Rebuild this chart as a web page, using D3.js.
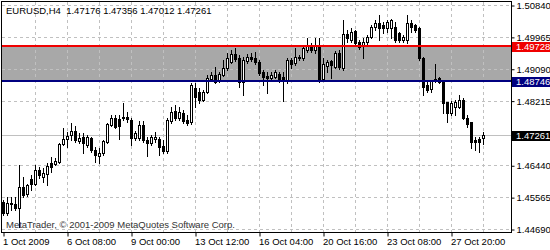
<!DOCTYPE html>
<html>
<head>
<meta charset="utf-8">
<script src="https://cdn.jsdelivr.net/npm/d3@7"></script>
<style>
    body { margin: 0; background: #fff; }
    svg { display: block; font-family: "Liberation Sans", Arial, sans-serif; font-size: 9.5px; }
</style>
</head>
<body>
<div id="chart"></div>
<script>
// EURUSD H4 bars
const symbol = "EURUSD,H4";

const open = [
    1.4543, 1.4513, 1.4540, 1.4538, 1.4527, 1.4584, 1.4565, 1.4606, 1.4593, 1.4631,
    1.4612, 1.4620, 1.4650, 1.4647, 1.4653, 1.4702, 1.4716, 1.4727, 1.4738, 1.4711,
    1.4722, 1.4700, 1.4719, 1.4686, 1.4669, 1.4678, 1.4708, 1.4755, 1.4774, 1.4771,
    1.4774, 1.4776, 1.4768, 1.4719, 1.4719, 1.4755, 1.4713, 1.4705, 1.4716, 1.4716,
    1.4697, 1.4683, 1.4765, 1.4793, 1.4774, 1.4787, 1.4768, 1.4763, 1.4856, 1.4845,
    1.4823, 1.4845, 1.4881, 1.4892, 1.4878, 1.4892, 1.4911, 1.4928, 1.4949, 1.4939,
    1.4873, 1.4930, 1.4941, 1.4939, 1.4928, 1.4900, 1.4889, 1.4884, 1.4886, 1.4895,
    1.4886, 1.4875, 1.4933, 1.4925, 1.4941, 1.4939, 1.4960, 1.4971, 1.4960, 1.4969,
    1.4881, 1.4917, 1.4930, 1.4914, 1.4952, 1.4911, 1.5004, 1.4988, 1.5013, 1.4982,
    1.4971, 1.4982, 1.4996, 1.5024, 1.5035, 1.5029, 1.5021, 1.5021, 1.5024, 1.5007,
    1.4988, 1.4988, 1.5035, 1.5029, 1.5021, 1.4939, 1.4864, 1.4853, 1.4875, 1.4884,
    1.4873, 1.4818, 1.4787, 1.4804, 1.4804, 1.4823, 1.4774, 1.4763, 1.4713, 1.4716,
    1.47176
];
const high = [
    1.4549, 1.4557, 1.4557, 1.4557, 1.4645, 1.4612, 1.4593, 1.4617, 1.4645, 1.4639,
    1.4636, 1.4650, 1.4667, 1.4664, 1.4705, 1.4746, 1.4735, 1.4760, 1.4752, 1.4733,
    1.4733, 1.4727, 1.4722, 1.4694, 1.4691, 1.4713, 1.4760, 1.4782, 1.4782, 1.4782,
    1.4815, 1.4790, 1.4774, 1.4738, 1.4765, 1.4765, 1.4722, 1.4727, 1.4735, 1.4722,
    1.4713, 1.4774, 1.4804, 1.4809, 1.4804, 1.4796, 1.4782, 1.4870, 1.4870, 1.4856,
    1.4851, 1.4892, 1.4900, 1.4914, 1.4900, 1.4933, 1.4952, 1.4960, 1.4966, 1.4947,
    1.4941, 1.4949, 1.4952, 1.4955, 1.4933, 1.4906, 1.4900, 1.4900, 1.4906, 1.4900,
    1.4900, 1.4939, 1.4939, 1.4966, 1.4947, 1.4974, 1.4993, 1.4980, 1.4993, 1.4993,
    1.4939, 1.4933, 1.4933, 1.4958, 1.4960, 1.5043, 1.5015, 1.5021, 1.5015, 1.4988,
    1.4993, 1.5002, 1.5029, 1.5043, 1.5057, 1.5037, 1.5043, 1.5046, 1.5037, 1.5010,
    1.5002, 1.5057, 1.5043, 1.5032, 1.5024, 1.4941, 1.4873, 1.4878, 1.4922, 1.4886,
    1.4878, 1.4818, 1.4820, 1.4823, 1.4837, 1.4829, 1.4782, 1.4763, 1.4722, 1.4722,
    1.47356
];
const low = [
    1.4507, 1.4507, 1.4521, 1.4521, 1.4474, 1.4557, 1.4560, 1.4576, 1.4590, 1.4609,
    1.4598, 1.4590, 1.4626, 1.4645, 1.4650, 1.4700, 1.4694, 1.4713, 1.4708, 1.4705,
    1.4678, 1.4694, 1.4680, 1.4653, 1.4650, 1.4672, 1.4705, 1.4752, 1.4746, 1.4716,
    1.4768, 1.4763, 1.4700, 1.4713, 1.4713, 1.4708, 1.4669, 1.4700, 1.4708, 1.4672,
    1.4678, 1.4678, 1.4760, 1.4768, 1.4768, 1.4760, 1.4755, 1.4757, 1.4804, 1.4815,
    1.4820, 1.4842, 1.4875, 1.4870, 1.4873, 1.4889, 1.4906, 1.4925, 1.4930, 1.4859,
    1.4837, 1.4925, 1.4930, 1.4922, 1.4892, 1.4864, 1.4842, 1.4878, 1.4884, 1.4873,
    1.4820, 1.4870, 1.4911, 1.4919, 1.4933, 1.4933, 1.4955, 1.4955, 1.4952, 1.4873,
    1.4875, 1.4900, 1.4884, 1.4911, 1.4908, 1.4906, 1.4982, 1.4982, 1.4971, 1.4963,
    1.4939, 1.4974, 1.4993, 1.5015, 1.4988, 1.5007, 1.5010, 1.4993, 1.4982, 1.4982,
    1.4982, 1.4980, 1.5010, 1.5010, 1.4933, 1.4837, 1.4845, 1.4845, 1.4873, 1.4870,
    1.4787, 1.4763, 1.4782, 1.4782, 1.4801, 1.4771, 1.4749, 1.4691, 1.4686, 1.4680,
    1.47012
];
const close = [
    1.4513, 1.4540, 1.4538, 1.4527, 1.4584, 1.4562, 1.4590, 1.4593, 1.4631, 1.4617,
    1.4623, 1.4642, 1.4639, 1.4656, 1.4702, 1.4716, 1.4724, 1.4738, 1.4713, 1.4719,
    1.4705, 1.4722, 1.4686, 1.4672, 1.4678, 1.4711, 1.4757, 1.4774, 1.4749, 1.4752,
    1.4776, 1.4771, 1.4719, 1.4733, 1.4755, 1.4713, 1.4705, 1.4722, 1.4722, 1.4694,
    1.4683, 1.4768, 1.4790, 1.4774, 1.4790, 1.4765, 1.4760, 1.4864, 1.4831, 1.4823,
    1.4845, 1.4884, 1.4892, 1.4873, 1.4895, 1.4911, 1.4939, 1.4949, 1.4936, 1.4873,
    1.4933, 1.4941, 1.4936, 1.4928, 1.4897, 1.4886, 1.4884, 1.4892, 1.4900, 1.4881,
    1.4875, 1.4933, 1.4922, 1.4941, 1.4939, 1.4966, 1.4971, 1.4960, 1.4971, 1.4878,
    1.4922, 1.4928, 1.4919, 1.4952, 1.4914, 1.5004, 1.4993, 1.5010, 1.4980, 1.4969,
    1.4982, 1.4996, 1.5024, 1.5035, 1.5021, 1.5021, 1.5037, 1.5043, 1.4988, 1.4988,
    1.4996, 1.5035, 1.5024, 1.5015, 1.4939, 1.4859, 1.4851, 1.4875, 1.4881, 1.4873,
    1.4815, 1.4787, 1.4815, 1.4818, 1.4823, 1.4774, 1.4757, 1.4708, 1.4708, 1.4708,
    1.47261
];

const timeLabels = ["1 Oct 2009", "6 Oct 08:00", "9 Oct 00:00", "13 Oct 12:00",
    "16 Oct 04:00", "20 Oct 16:00", "23 Oct 08:00", "27 Oct 20:00"];
const barsPerLabel = 16;
const barsPerGrid = 8;

// price scale ticks (the one under the bid tag is not shown)
const priceTicks = [1.50840, 1.49965, 1.49090, 1.48215, 1.46440, 1.45565, 1.44690];
const priceMin = 1.44690, priceMax = 1.50840;

// rectangle zone + its two horizontal lines
const zoneTop = 1.49728;
const zoneBottom = 1.48746;
const lastPrice = close[close.length - 1];

const width = 550;
const height = 250;
const frameRight = 511;
const frameBottom = 232;
const n = open.length;

const bars = d3.range(n).map(i => ({ i, o: open[i], h: high[i], l: low[i], c: close[i] }));

const x = d3.scaleLinear()
    .domain([0, n - 1])
    .range([3.5, 3.5 + 4 * (n - 1)]);

const y = d3.scaleLinear()
    .domain([priceMin, priceMax])
    .range([229, 5]);

const crisp = v => Math.round(v) + 0.5;
const fmt = d3.format(".5f");

const svg = d3.select("#chart")
    .append("svg")
    .attr("width", width)
    .attr("height", height);

svg.append("rect")
    .attr("width", width)
    .attr("height", height)
    .attr("fill", "#fff");

// Grey zone (background object)
svg.append("rect")
    .attr("x", 2)
    .attr("y", y(zoneTop))
    .attr("width", frameRight - 2)
    .attr("height", y(zoneBottom) - y(zoneTop))
    .attr("fill", "#a8a8a8");

// Grid
const grid = svg.append("g")
    .attr("stroke", "#c0c0c0")
    .attr("stroke-dasharray", "3,3")
    .attr("shape-rendering", "crispEdges");

grid.selectAll(".hgrid")
    .data(priceTicks)
    .join("line")
    .attr("class", "hgrid")
    .attr("x1", 2)
    .attr("x2", frameRight)
    .attr("y1", d => crisp(y(d)))
    .attr("y2", d => crisp(y(d)));

grid.selectAll(".vgrid")
    .data(d3.range(barsPerGrid, n, barsPerGrid))
    .join("line")
    .attr("class", "vgrid")
    .attr("x1", d => Math.floor(x(d)) + 0.5)
    .attr("x2", d => Math.floor(x(d)) + 0.5)
    .attr("y1", 2)
    .attr("y2", frameBottom);

// Current price line
svg.append("line")
    .attr("x1", 2)
    .attr("x2", frameRight)
    .attr("y1", crisp(y(lastPrice)))
    .attr("y2", crisp(y(lastPrice)))
    .attr("stroke", "#c0c0c0")
    .attr("shape-rendering", "crispEdges");

// Candles
const candle = svg.append("g")
    .attr("shape-rendering", "crispEdges")
    .selectAll("g")
    .data(bars)
    .join("g");

candle.append("line")
    .attr("x1", d => Math.floor(x(d.i)) + 0.5)
    .attr("x2", d => Math.floor(x(d.i)) + 0.5)
    .attr("y1", d => Math.round(y(d.h)))
    .attr("y2", d => Math.round(y(d.l)) + 1)
    .attr("stroke", "#000");

candle.append("rect")
    .attr("x", d => Math.floor(x(d.i)) - 0.5)
    .attr("y", d => crisp(y(Math.max(d.o, d.c))))
    .attr("width", 2)
    .attr("height", d => Math.max(Math.round(y(Math.min(d.o, d.c))) - Math.round(y(Math.max(d.o, d.c))), 0.01))
    .attr("fill", d => d.c >= d.o ? "#fff" : "#000")
    .attr("stroke", "#000");

// Zone lines
svg.append("line")
    .attr("x1", 2).attr("x2", frameRight)
    .attr("y1", Math.round(y(zoneTop))).attr("y2", Math.round(y(zoneTop)))
    .attr("stroke", "#f00000")
    .attr("stroke-width", 2);

svg.append("line")
    .attr("x1", 2).attr("x2", frameRight)
    .attr("y1", Math.round(y(zoneBottom))).attr("y2", Math.round(y(zoneBottom)))
    .attr("stroke", "#000080")
    .attr("stroke-width", 2);

// Frame
svg.append("rect")
    .attr("x", 1.5)
    .attr("y", 1.5)
    .attr("width", frameRight - 1.5)
    .attr("height", frameBottom - 1.5)
    .attr("fill", "none")
    .attr("stroke", "#000")
    .attr("shape-rendering", "crispEdges");

// Price axis
const yAxis = svg.append("g")
    .attr("transform", `translate(${frameRight + 0.5},0.5)`)
    .call(d3.axisRight(y)
        .tickValues(priceTicks)
        .tickSize(3)
        .tickPadding(2)
        .tickFormat(fmt));
yAxis.select(".domain").remove();
yAxis.selectAll("text").attr("fill", "#000").style("font-size", "9.5px").style("font-family", "Liberation Sans, Arial, sans-serif");
yAxis.selectAll("line").attr("stroke", "#000");

// Time axis
const xAxis = svg.append("g")
    .attr("transform", `translate(0,${frameBottom + 0.5})`)
    .call(d3.axisBottom(x)
        .tickValues(d3.range(0, n, barsPerLabel))
        .tickSize(4)
        .tickPadding(2)
        .tickFormat((d, i) => timeLabels[i]));
xAxis.select(".domain").remove();
xAxis.selectAll("line")
    .attr("stroke", "#000")
    .attr("transform", d => `translate(${Math.floor(x(d)) + 0.5 - x(d)},0)`);
xAxis.selectAll("text")
    .attr("text-anchor", "start")
    .attr("dx", -1)
    .attr("fill", "#000")
    .style("font-size", "9.5px")
    .style("font-family", "Liberation Sans, Arial, sans-serif");

// Price tags on the axis
const tags = [
    { v: zoneTop, bg: "#f00000" },
    { v: zoneBottom, bg: "#000080" },
    { v: lastPrice, bg: "#000" }
];

const tag = svg.selectAll(".tag")
    .data(tags)
    .join("g")
    .attr("class", "tag")
    .attr("transform", d => `translate(${frameRight + 1},${Math.round(y(d.v))})`);

tag.append("rect")
    .attr("x", 0)
    .attr("y", -4)
    .attr("width", width - frameRight)
    .attr("height", 10)
    .attr("fill", d => d.bg);

tag.append("text")
    .attr("x", 4)
    .attr("y", 1)
    .attr("dy", "0.32em")
    .attr("fill", "#fff")
    .text(d => fmt(d.v));

// Header
svg.append("text")
    .attr("x", 6)
    .attr("y", 14)
    .attr("fill", "#000")
    .style("white-space", "pre")
    .text(`${symbol}  ${[open[n - 1], high[n - 1], low[n - 1], close[n - 1]].map(fmt).join(" ")}`);

svg.append("text")
    .attr("x", 6)
    .attr("y", 228)
    .attr("fill", "#333")
    .text("MetaTrader, © 2001-2009 MetaQuotes Software Corp.");
</script>
</body>
</html>
